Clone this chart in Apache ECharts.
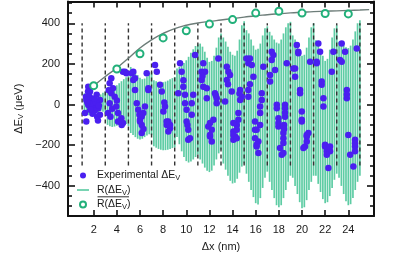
<!DOCTYPE html>
<html><head><meta charset="utf-8">
<script src="https://cdn.jsdelivr.net/npm/echarts@6/dist/echarts.min.js"></script>
<style>html,body{margin:0;padding:0;background:#fff}#c{width:402px;height:253px}</style>
</head><body><div id="c"></div>
<script>
// ---- data ----
const xTicks = [2,4,6,8,10,12,14,16,18,20,22,24];
const yTicks = [-400,-200,0,200,400];
const yMinorTicks = [-500,-450,-350,-300,-250,-150,-100,-50,50,100,150,250,300,350,450,500];
const dashX = [1,3,5,7,9,11,13,15,17,19,21,23,25];
const dashRange = [-300, 400];

const barX = [
 1.2,1.4,1.6,1.8,2.0,2.2,2.4,2.6,2.8,3.0,
 3.2,3.4,3.6,3.8,4.0,4.2,4.4,4.6,4.8,5.0,
 5.2,5.4,5.6,5.8,6.0,6.2,6.4,6.6,6.8,7.0,
 7.2,7.4,7.6,7.8,8.0,8.2,8.4,8.6,8.8,9.0,
 9.2,9.4,9.6,9.8,10.0,10.2,10.4,10.6,10.8,11.0,
 11.2,11.4,11.6,11.8,12.0,12.2,12.4,12.6,12.8,13.0,
 13.2,13.4,13.6,13.8,14.0,14.2,14.4,14.6,14.8,15.0,
 15.2,15.4,15.6,15.8,16.0,16.2,16.4,16.6,16.8,17.0,
 17.2,17.4,17.6,17.8,18.0,18.2,18.4,18.6,18.8,19.0,
 19.2,19.4,19.6,19.8,20.0,20.2,20.4,20.6,20.8,21.0,
 21.2,21.4,21.6,21.8,22.0,22.2,22.4,22.6,22.8,23.0,
 23.2,23.4,23.6,23.8,24.0,24.2,24.4,24.6,24.8,25.0
];
const barHigh = [
 55,50,45,40,38,40,45,50,58,65,
 85,80,78,85,95,105,115,125,135,140,
 185,175,160,145,132,125,128,138,150,160,
 120,115,110,108,110,113,118,124,130,136,
 178,185,195,205,218,235,255,272,288,295,
 300,285,260,230,210,215,240,280,330,350,
 330,310,285,260,245,240,265,320,390,410,
 366,350,320,290,270,275,300,340,375,385,
 358,340,320,305,300,320,350,380,400,407,
 340,320,290,260,240,245,280,330,380,400,
 317,300,270,240,215,225,270,330,375,390,
 309,300,290,282,278,290,320,360,400,415
];
const barLow = [
 -40,-48,-52,-50,-46,-42,-38,-32,-35,-42,
 -100,-106,-110,-108,-104,-100,-96,-92,-96,-105,
 -140,-150,-160,-168,-172,-168,-160,-152,-146,-150,
 -205,-212,-218,-222,-224,-224,-222,-218,-214,-210,
 -160,-195,-230,-258,-278,-285,-280,-270,-258,-245,
 -270,-290,-310,-325,-332,-325,-300,-270,-240,-222,
 -290,-320,-350,-375,-388,-385,-365,-335,-305,-290,
 -340,-380,-420,-455,-485,-492,-460,-410,-360,-330,
 -380,-420,-460,-495,-505,-495,-460,-420,-380,-350,
 -360,-400,-440,-480,-510,-505,-470,-420,-380,-350,
 -350,-390,-430,-465,-485,-480,-450,-410,-370,-340,
 -360,-400,-440,-475,-495,-490,-460,-420,-380,-350
];

const expPoints = [
 [1.53,88],[1.68,64],[1.51,64],[1.33,39],[1.65,39],[1.83,23],[2.26,48],[2.54,23],[1.53,-2],[1.97,-10],
 [2.4,-18],[1.25,-41],[2.54,-50],[1.36,23],[1.8,5],[2.1,-30],[2.2,10],[1.9,-45],[2.3,-60],[1.36,-83],
 [2.37,-78],[1.7,-25],[2.05,30],[1.45,10],[2.45,-5],
 [3.52,129],[3.38,105],[3.67,80],[3.52,56],[3.81,39],[3.38,7],[3.95,-10],[4.1,-42],[4.39,-67],[3.24,-42],
 [4.1,-83],[4.53,-91],[4.42,-100],[4.27,-83],[4.53,162],[4.7,162],[4.82,154],[3.6,-20],[3.45,-60],[4.0,20],[3.3,70],
 [5.28,154],[5.42,162],[5.42,121],[5.57,129],[5.57,72],[6.58,154],[6.72,80],[6.72,72],[5.72,7],[5.85,-26],
 [6.15,-59],[6.43,-10],[6.0,-75],[6.29,-42],[6.15,-100],[6.15,-140],[6.0,-83],[5.95,-50],[6.3,-120],
 [7.3,195],[7.45,162],[7.73,97],[7.88,64],[8.16,-10],[8.02,-34],[8.45,-83],[8.6,-116],[8.45,-132],[8.31,-100],
 [8.6,-100],[8.3,-83],[8.1,10],
 [9.46,203],[9.6,162],[9.74,88],[9.31,56],[9.89,48],[10.6,48],[9.89,7],[10.47,7],[10.03,-26],[10.47,-50],
 [10.03,-83],[10.17,-124],[10.17,-173],[10.32,-165],[10.76,244],[9.75,120],[10.1,-100],
 [11.33,162],[11.47,203],[11.62,162],[11.33,121],[11.47,88],[11.77,80],[11.77,31],[12.48,56],[12.63,31],[12.63,7],
 [12.77,227],[12.34,-75],[12.05,-91],[11.9,-108],[12.2,-124],[12.05,-157],[12.2,-181],[12.05,-149],[13.35,15],[11.4,140],[12.55,45],
 [13.5,186],[13.64,162],[13.5,121],[13.78,146],[13.93,64],[14.65,72],[14.79,39],[14.65,23],[14.5,-42],[14.5,-75],
 [14.36,-100],[14.07,-91],[14.07,-132],[14.21,-157],[14.07,-173],[14.36,-124],[14.07,-149],[14.36,-165],[14.6,55],[13.6,100],
 [15.22,227],[15.36,203],[15.5,227],[15.66,195],[15.8,137],[15.36,72],[15.36,39],[16.66,186],[16.52,56],[16.52,23],
 [16.38,-10],[16.38,-42],[16.38,-100],[15.94,-124],[15.94,-165],[16.23,-181],[16.08,-206],[15.94,-83],[16.08,-124],[16.08,-198],
 [16.23,-238],[15.5,100],
 [17.38,260],[17.52,244],[17.38,219],[17.67,170],[17.24,146],[17.24,113],[18.68,203],[17.82,-1],[17.82,-18],[17.96,-67],
 [17.96,-108],[17.96,-91],[18.53,-1],[18.53,-18],[18.39,-140],[18.39,-165],[18.39,-189],[18.1,-214],[18.25,-247],[18.39,-238],
 [18.53,-60],[18.53,-40],[18.45,-100],[18.45,-120],
 [19.55,293],[19.68,260],[19.4,178],[19.4,137],[19.83,72],[19.83,56],[19.98,-34],[19.98,-75],[19.98,-83],[20.7,211],
 [20.55,-140],[20.41,-157],[20.26,-206],[20.12,-214],[20.41,-181],[20.41,-149],[19.68,252],[19.26,178],
 [21.41,301],[21.56,260],[21.27,203],[21.7,113],[21.7,97],[21.85,31],[21.85,-10],[21.99,-206],[22.14,-230],[22.42,-230],
 [22.28,-312],[22.57,162],[21.99,-198],[22.14,-247],[22.42,-206],[22.71,260],[21.27,211],
 [23.43,301],[23.72,260],[23.29,219],[23.43,211],[24.73,276],[23.87,72],[23.87,31],[24.0,-149],[24.58,-173],[24.58,-206],
 [24.58,-230],[24.16,-247],[24.44,-304],[24.58,-190],[23.87,50]
];

const meanX = [2,4,6,8,10,12,14,16,18,20,22,24];
const meanY = [93,175,250,328,363,396,418,450,459,450,448,446];

const fitX = [2,3,4,5,6,7,8,9,10,11,12,13,14,15,16,17,18,19,20,21,22,23,24,25,25.8];
const fitY = [92,138,180,228,278,318,350,374,390,401,409,416,423,430,437,442,447,451,454,457,459,461,463,465,467];

// ---- chart ----
const FONT = '"Liberation Sans", Arial, sans-serif';
const X_MIN = -0.22, X_MAX = 26.22, Y_MIN = -548, Y_MAX = 507;
const BLACK = '#111';
const GREEN_BAR = '#4cc69a';
const GREEN_C = '#22b07a';
const BLUE = '#4a1ff0';

function xAx(pos, labels, name) {
  return {
    type:'value', min:X_MIN, max:X_MAX, position:pos, gridIndex:0,
    axisLine:{show:true,onZero:false,lineStyle:{color:BLACK,width:2}},
    axisTick:{show:true,inside:true,length:6,customValues:xTicks,lineStyle:{color:BLACK,width:1.6}},
    axisLabel:{show:labels,customValues:xTicks,margin:8,fontSize:11,fontFamily:FONT,color:'#1a1a1a'},
    splitLine:{show:false},
    name:name||'', nameLocation:'middle', nameGap:25,
    nameTextStyle:{fontSize:11,fontFamily:FONT,color:'#1a1a1a'}
  };
}
function yAx(pos, ticks, len, labels, showLine, name) {
  return {
    type:'value', min:Y_MIN, max:Y_MAX, position:pos, gridIndex:0,
    axisLine:{show:showLine,onZero:false,lineStyle:{color:BLACK,width:2}},
    axisTick:{show:true,inside:true,length:len,customValues:ticks,lineStyle:{color:BLACK,width:1.6}},
    axisLabel:{show:labels,customValues:ticks,margin:8,fontSize:11,fontFamily:FONT,color:'#1a1a1a',
      formatter:v=>String(v).replace('-','\u2212')},
    splitLine:{show:false},
    name:name||'', nameLocation:'middle', nameGap:39, nameRotate:90,
    nameTextStyle:{fontFamily:FONT,color:'#1a1a1a',rich:{
      a:{fontSize:11,fontFamily:FONT,color:'#1a1a1a'},
      s:{fontSize:8,fontFamily:FONT,color:'#1a1a1a',verticalAlign:'bottom',padding:[3,0,0,0]}}}
  };
}

const chart = echarts.init(document.getElementById('c'), null, {renderer:'canvas'});
const legendNames = {
  exp:'{a|Experimental \u0394E}{s|V}',
  R:'{a|R(\u0394E}{s|V}{a|)}',
  Rbar:'{a|R(\u0394E}{s|V}{a|)}'
};
chart.setOption({
  animation:false,
  backgroundColor:'#fff',
  grid:{left:68,top:1.5,width:306,height:214.5,containLabel:false,outerBoundsMode:'none'},
  xAxis:[xAx('bottom',true,'\u0394x (nm)'), xAx('top',false)],
  yAxis:[
    yAx('left',yTicks,7,true,true,'{a|\u0394E}{s|V}{a| (\u03bceV)}'),
    yAx('left',yMinorTicks,4,false,false),
    yAx('right',yTicks,7,false,true),
    yAx('right',yMinorTicks,4,false,false)
  ],
  legend:{
    left:72, top:165, orient:'vertical', itemGap:2.5, itemWidth:12, itemHeight:6,
    padding:5, symbolKeepAspect:true,
    data:[
      {name:'exp',icon:'circle'},
      {name:'R',icon:'path://M0,0H24V3H0Z',itemStyle:{color:GREEN_BAR}},
      {name:'Rbar',icon:'emptyCircle'}
    ],
    formatter:n=>legendNames[n],
    textStyle:{fontFamily:FONT,padding:[0,0,0,3],rich:{
      a:{fontSize:10.5,fontFamily:FONT,color:'#1a1a1a',lineHeight:13},
      s:{fontSize:7.5,fontFamily:FONT,color:'#1a1a1a',verticalAlign:'bottom',lineHeight:9}}}
  },
  graphic:[
    {type:'line',shape:{x1:97.5,y1:196.8,x2:129,y2:196.8},style:{stroke:'#1a1a1a',lineWidth:0.9},z:100}
  ],
  series:[
    {
      name:'Rbars', type:'custom', xAxisIndex:0, yAxisIndex:0, z:1,
      data:barX.map((x,i)=>[x,barLow[i],barHigh[i]]),
      encode:{x:0,y:[1,2]},
      renderItem:(params,api)=>{
        const p1=api.coord([api.value(0),api.value(1)]);
        const p2=api.coord([api.value(0),api.value(2)]);
        return {type:'line',shape:{x1:p1[0],y1:p1[1],x2:p2[0],y2:p2[1]},
          style:{stroke:GREEN_BAR,lineWidth:1.7,opacity:0.9}};
      }
    },
    {
      name:'dash', type:'custom', xAxisIndex:0, yAxisIndex:0, z:2,
      data:dashX.map(x=>[x,dashRange[0],dashRange[1]]),
      encode:{x:0,y:[1,2]},
      renderItem:(params,api)=>{
        const p1=api.coord([api.value(0),api.value(1)]);
        const p2=api.coord([api.value(0),api.value(2)]);
        return {type:'line',shape:{x1:p1[0],y1:p1[1],x2:p2[0],y2:p2[1]},
          style:{stroke:'#333',lineWidth:1.4,lineDash:[4,3]}};
      }
    },
    {
      name:'R', type:'line', data:[], symbol:'none', showSymbol:false, lineStyle:{color:GREEN_BAR,width:1.8}, itemStyle:{color:GREEN_BAR}
    },
    {
      name:'exp', type:'scatter', xAxisIndex:0, yAxisIndex:0, z:3,
      data:expPoints, symbolSize:6.5, itemStyle:{color:BLUE,opacity:1}
    },
    {
      name:'fit', type:'line', xAxisIndex:0, yAxisIndex:0, z:4,
      data:fitX.map((x,i)=>[x,fitY[i]]), smooth:true, showSymbol:false, symbol:'none',
      lineStyle:{color:'#6d7d79',width:1.4}
    },
    {
      name:'Rbar', type:'scatter', xAxisIndex:0, yAxisIndex:0, z:5,
      data:meanX.map((x,i)=>[x,meanY[i]]), symbol:'emptyCircle', symbolSize:7,
      itemStyle:{color:GREEN_C,borderColor:GREEN_C,borderWidth:2,opacity:1}
    }
  ]
});
</script>
</body></html>
